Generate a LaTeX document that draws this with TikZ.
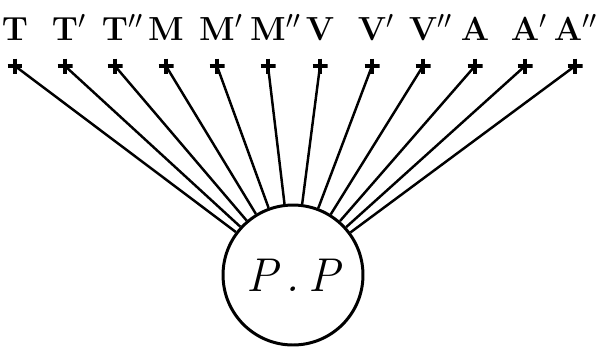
\documentclass[tikz,border=0pt]{standalone}
\begin{document}
\begin{tikzpicture}[x=0.02cm, y=-0.02cm,
    tag/.style={font=\fontsize{19}{23}\selectfont\bfseries, anchor=base, inner sep=0pt},
    crossmark/.style={minimum size=0.3cm, inner sep=0pt,
        path picture={\draw[line width=1.8pt]
            (path picture bounding box.north) -- (path picture bounding box.south)
            (path picture bounding box.west) -- (path picture bounding box.east);}},
    ray/.style={line width=1.4pt}]
    \useasboundingbox (0,0) rectangle (597,346);

    \node[draw, circle, line width=1.7pt, minimum size=2.8cm, font=\fontsize{27}{30}\selectfont\itshape] (pp) at (293,275) {P\,.\,P};

    \node[tag] (t)   at (15,40)  {T};
    \node[tag] (t1)  at (65,40)  {T\rlap{$'$}};
    \node[tag] (t2)  at (115,40) {T\rlap{$''$}};
    \node[tag] (m)   at (166,40) {M};
    \node[tag] (m1)  at (217,40) {M\rlap{$'$}};
    \node[tag] (m2)  at (268,40) {M\rlap{$''$}};
    \node[tag] (v)   at (320,40) {V};
    \node[tag] (v1)  at (372,40) {V\rlap{$'$}};
    \node[tag] (v2)  at (423,40) {V\rlap{$''$}};
    \node[tag] (a)   at (475,40) {A};
    \node[tag] (a1)  at (525,40) {A\rlap{$'$}};
    \node[tag] (a2)  at (568,40) {A\rlap{$''$}};

    \node[crossmark] (xt)  at (15,66)  {};
    \node[crossmark] (xt1) at (65,66)  {};
    \node[crossmark] (xt2) at (115,66) {};
    \node[crossmark] (xm)  at (166,66) {};
    \node[crossmark] (xm1) at (217,66) {};
    \node[crossmark] (xm2) at (268,66) {};
    \node[crossmark] (xv)  at (320,66) {};
    \node[crossmark] (xv1) at (372,66) {};
    \node[crossmark] (xv2) at (423,66) {};
    \node[crossmark] (xa)  at (475,66) {};
    \node[crossmark] (xa1) at (525,66) {};
    \node[crossmark] (xa2) at (575,66) {};

    \draw[ray] (xt.center) -- (pp);
    \draw[ray] (xt1.center) -- (pp);
    \draw[ray] (xt2.center) -- (pp);
    \draw[ray] (xm.center) -- (pp);
    \draw[ray] (xm1.center) -- (pp);
    \draw[ray] (xm2.center) -- (pp);
    \draw[ray] (xv.center) -- (pp);
    \draw[ray] (xv1.center) -- (pp);
    \draw[ray] (xv2.center) -- (pp);
    \draw[ray] (xa.center) -- (pp);
    \draw[ray] (xa1.center) -- (pp);
    \draw[ray] (xa2.center) -- (pp);
\end{tikzpicture}
\end{document}
